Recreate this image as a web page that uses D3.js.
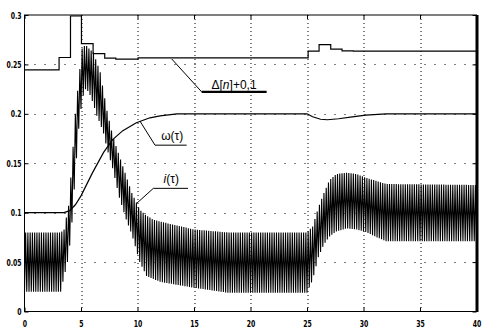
<!DOCTYPE html>
<html>
<head>
<meta charset="utf-8">
<script src="https://cdn.jsdelivr.net/npm/d3@7"></script>
<style>
  body { margin: 0; background: #fff; }
  svg { display: block; }
  .tick-label { font-family: "DejaVu Sans Condensed", "Liberation Sans", sans-serif; font-size: 9.5px; font-weight: bold; }
  .note { font-family: "Liberation Sans", Arial, sans-serif; font-size: 12px; }
</style>
</head>
<body>
<div id="drawing"></div>
<script>
// ---- data ----
var xTicks = [0, 5, 10, 15, 20, 25, 30, 35, 40];
var yTicks = [0, 0.05, 0.1, 0.15, 0.2, 0.25, 0.3];
var yTickLabels = ["0", "0.05", "0.1", "0.15", "0.2", "0.25", "0.3"];

// Δ[n]+0,1 : stepped signal, value holds from each time to the next
var deltaTime  = [0, 3.06, 4.07, 5.04, 6.07, 7.1, 8.08, 10.05, 25.1, 26.07, 27.1, 28.1, 29.1, 40];
var deltaValue = [0.2445, 0.257, 0.299, 0.271, 0.261, 0.2564, 0.2554, 0.2566, 0.2635, 0.27, 0.2655, 0.2638, 0.2635, 0.2635];

// ω(τ)
var omegaTime  = [0, 3.5, 4, 4.5, 5, 6, 7, 7.8, 8.7, 9.9, 11.1, 12, 13.5, 15, 25, 25.5, 26.2, 26.8, 27.8, 29, 30.2, 32, 40];
var omegaValue = [0.1, 0.1, 0.102, 0.108, 0.117, 0.14, 0.161, 0.174, 0.183, 0.191, 0.196, 0.198, 0.2, 0.2, 0.2, 0.197, 0.1945, 0.194, 0.195, 0.197, 0.1987, 0.2, 0.2];

// i(τ) : ripple current, upper and lower envelope of the ripple
var iTime  = [0, 3.2, 3.5, 3.9, 4.2, 4.5, 4.8, 5.1, 5.4, 5.7, 6.1, 6.4, 6.7, 7.0, 7.3, 7.8, 8.4, 9.0, 9.5, 10.2, 10.8, 11.4, 12, 15, 18, 25, 25.5, 26, 26.5, 27, 27.6, 28.5, 29.4, 30.3, 31.2, 32, 40];
var iUpper = [0.08, 0.08, 0.083, 0.107, 0.15, 0.2, 0.235, 0.266, 0.27, 0.266, 0.262, 0.252, 0.242, 0.222, 0.203, 0.178, 0.157, 0.137, 0.12, 0.103, 0.097, 0.093, 0.091, 0.083, 0.08, 0.08, 0.086, 0.105, 0.12, 0.133, 0.139, 0.1405, 0.139, 0.135, 0.132, 0.129, 0.128];
var iLower = [0.02, 0.02, 0.035, 0.055, 0.09, 0.14, 0.185, 0.215, 0.225, 0.222, 0.21, 0.198, 0.19, 0.18, 0.165, 0.145, 0.115, 0.093, 0.078, 0.05, 0.036, 0.033, 0.03, 0.024, 0.019, 0.019, 0.032, 0.055, 0.068, 0.076, 0.081, 0.084, 0.083, 0.08, 0.075, 0.071, 0.071];
var ripplePeriod = 0.2;

// curve labels: start of leader, elbow, end of underline
var noteNames  = ["delta", "omega", "current"];
var noteStart  = [[13.03, 0.2555], [10.22, 0.1926], [9.93, 0.1094]];
var noteElbow  = [[15.68, 0.2222], [11.55, 0.1683], [11.4, 0.1246]];
var noteEnd    = [21.43, 14.35, 14.47];

var width = 488, height = 331;
var margin = {top: 15, right: 11.5, bottom: 19.5, left: 24.5};
var drawing, plot, xScale, yScale;

function setup() {
  drawing = d3.select("#drawing").append("svg")
    .attr("width", width)
    .attr("height", height);

  plot = drawing.append("g")
    .attr("transform", `translate(${margin.left}, ${margin.top})`);

  xScale = d3.scaleLinear().domain([0, 40]).range([0, width - margin.left - margin.right]);
  yScale = d3.scaleLinear().domain([0, 0.3]).range([height - margin.top - margin.bottom, 0]);
}

function make() {
  var w = xScale.range()[1], h = yScale.range()[0];

  // dotted grid
  plot.append("g").selectAll("line")
    .data(xTicks.slice(1, -1))
    .enter().append("line")
      .attr("x1", d => Math.round(xScale(d)) + 0.5).attr("x2", d => Math.round(xScale(d)) + 0.5)
      .attr("y1", 0).attr("y2", h)
      .style("stroke", "#000").style("stroke-dasharray", "1,3");
  plot.append("g").selectAll("line")
    .data(yTicks.slice(1, -1))
    .enter().append("line")
      .attr("y1", d => Math.round(yScale(d)) + 0.5).attr("y2", d => Math.round(yScale(d)) + 0.5)
      .attr("x1", 0).attr("x2", w)
      .style("stroke", "#000").style("stroke-dasharray", "1,9");

  // i(τ) ripple drawn between its envelopes
  var up = d3.scaleLinear().domain(iTime).range(iUpper);
  var lo = d3.scaleLinear().domain(iTime).range(iLower);
  var ripple = d3.range(0, 40 / (ripplePeriod / 2) + 1).map(k => {
    var t = k * ripplePeriod / 2;
    return [t, k % 2 ? up(t) : lo(t)];
  });

  var line = d3.line().x(d => xScale(d[0])).y(d => yScale(d[1]));

  plot.append("path")
    .attr("d", line(ripple))
    .style("fill", "none").style("stroke", "#000").style("stroke-width", 1.1);

  plot.append("path")
    .attr("d", line(omegaTime.map((t, i) => [t, omegaValue[i]])))
    .style("fill", "none").style("stroke", "#000").style("stroke-width", 1.2);

  var stepLine = d3.line().x(d => xScale(d[0])).y(d => yScale(d[1])).curve(d3.curveStepAfter);
  plot.append("path")
    .attr("d", stepLine(deltaTime.map((t, i) => [t, deltaValue[i]])))
    .style("fill", "none").style("stroke", "#000").style("stroke-width", 1.2);

  // frame
  plot.append("rect").attr("x", 0).attr("y", 0).attr("width", w).attr("height", h)
    .style("fill", "none").style("stroke", "#000").style("stroke-width", 1);
  plot.append("line").attr("x1", w + 0.5).attr("x2", w + 0.5).attr("y1", 0).attr("y2", h + 0.5)
    .style("stroke", "#000").style("stroke-width", 3);

  // axes with inward ticks
  var xb = plot.append("g").attr("transform", `translate(0, ${h})`)
    .call(d3.axisBottom(xScale).tickValues(xTicks).tickSizeInner(-4).tickSizeOuter(0).tickPadding(9));
  var xt = plot.append("g")
    .call(d3.axisTop(xScale).tickValues(xTicks).tickSizeInner(-4).tickSizeOuter(0).tickFormat(""));
  var yl = plot.append("g")
    .call(d3.axisLeft(yScale).tickValues(yTicks).tickSizeInner(-4).tickSizeOuter(0).tickPadding(4)
      .tickFormat((d, i) => yTickLabels[i]));
  var yr = plot.append("g").attr("transform", `translate(${w}, 0)`)
    .call(d3.axisRight(yScale).tickValues(yTicks).tickSizeInner(-4).tickSizeOuter(0).tickFormat(""));
  [xb, xt, yl, yr].forEach(a => {
    a.select(".domain").remove();
    a.selectAll("line").style("stroke", "#000");
    a.selectAll("text").attr("class", "tick-label").style("fill", "#000")
      .attr("transform", "scale(0.72,1)");
  });

  // curve labels: thin leader, underline (thick for Δ)
  noteNames.forEach((n, i) => {
    var y = yScale(noteElbow[i][1]);
    plot.append("line")
      .attr("x1", xScale(noteStart[i][0])).attr("y1", yScale(noteStart[i][1]))
      .attr("x2", xScale(noteElbow[i][0])).attr("y2", y)
      .style("stroke", "#000").style("stroke-width", 1);
    plot.append("line")
      .attr("x1", xScale(noteElbow[i][0])).attr("y1", y)
      .attr("x2", xScale(noteEnd[i])).attr("y2", y)
      .style("stroke", "#000").style("stroke-width", n === "delta" ? 2.2 : 1);
  });

  var t1 = plot.append("text").attr("class", "note")
    .attr("x", xScale(16.55)).attr("y", yScale(0.2255));
  t1.append("tspan").text("Δ[");
  t1.append("tspan").style("font-style", "italic").text("n");
  t1.append("tspan").text("]+0,1");

  plot.append("text").attr("class", "note")
    .attr("x", xScale(12.1)).attr("y", yScale(0.1734)).text("ω(τ)");

  var t3 = plot.append("text").attr("class", "note")
    .attr("x", xScale(12.3)).attr("y", yScale(0.1299));
  t3.append("tspan").style("font-style", "italic").text("i");
  t3.append("tspan").text("(τ)");
}

setup();
make();
</script>
</body>
</html>
